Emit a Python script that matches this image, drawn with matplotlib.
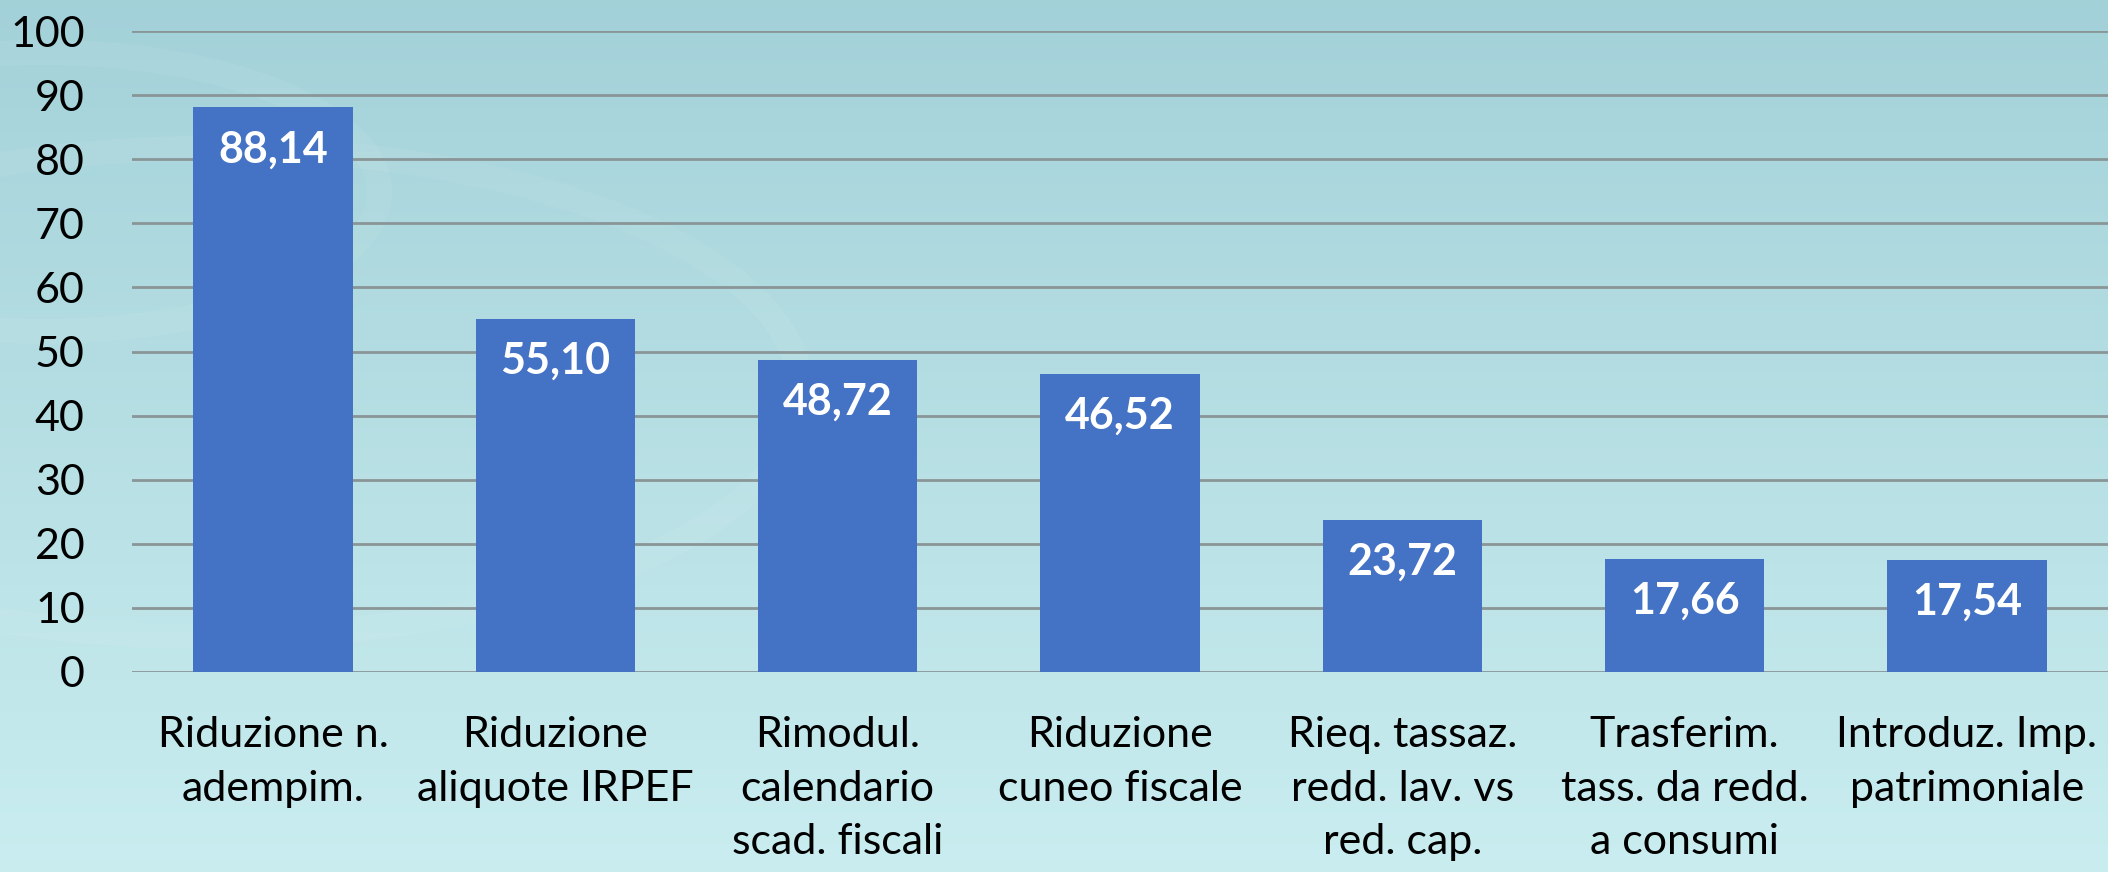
import numpy as np
from matplotlib import pyplot as plt
from matplotlib.patches import Circle

categories = ['Riduzione n.\nadempim.', 'Riduzione\naliquote IRPEF', 'Rimodul.\ncalendario\nscad. fiscali',
              'Riduzione\ncuneo fiscale', 'Rieq. tassaz.\nredd. lav. vs\nred. cap.',
              'Trasferim.\ntass. da redd.\na consumi', 'Introduz. Imp.\npatrimoniale']
values = [88.14, 55.10, 48.72, 46.52, 23.72, 17.66, 17.54]
yticks = [0, 10, 20, 30, 40, 50, 60, 70, 80, 90, 100]

plt.rcParams['font.family'] = ['Lato', 'DejaVu Sans']

fig = plt.figure(figsize=(21.08, 8.72), dpi=100)

# sfondo sfumato
bg = fig.add_axes([0, 0, 1, 1])
top = np.array([0.64, 0.82, 0.85])
bottom = np.array([0.79, 0.93, 0.94])
t = np.linspace(0, 1, 256)[:, None, None]
grad = top * (1 - t) + bottom * t
grad = np.repeat(grad, 4, axis=1)
bg.imshow(grad, aspect='auto', extent=[0, 1, 0, 1], origin='upper')
for cx, cy, r in [(0.02, 0.78, 0.16), (0.10, 0.55, 0.28)]:
    bg.add_patch(Circle((cx, cy), r, fill=False, ec='white', lw=18, alpha=0.06,
                        transform=bg.transAxes))
bg.set_xlim(0, 1)
bg.set_ylim(0, 1)
bg.axis('off')

ax = fig.add_axes([0.0626, 0.2294, 0.9374, 0.735])
ax.patch.set_alpha(0)
x = np.arange(len(values))
bars = ax.bar(x, values, width=0.565, color='#4472C4', zorder=3)
for xi, v in zip(x, values):
    ax.annotate('{:.2f}'.format(v).replace('.', ','), (xi, v), xytext=(0, -16),
                textcoords='offset points', ha='center', va='top',
                color='white', fontsize=31, fontweight='bold', zorder=4)

ax.set_xlim(-0.5, len(values) - 0.5)
ax.set_ylim(0, 100)
ax.set_yticks(yticks)
ax.set_yticklabels([str(v) for v in yticks], fontsize=31)
ax.set_xticks(x)
ax.set_xticklabels(categories, fontsize=31, linespacing=1.5, va='top')
ax.tick_params(axis='both', length=0, colors='black')
ax.tick_params(axis='x', pad=32)
ax.tick_params(axis='y', pad=34)
ax.grid(axis='y', color='#8a9597', lw=2, zorder=1)
for s in ax.spines.values():
    s.set_visible(False)

fig.savefig('out.png', dpi=100)
